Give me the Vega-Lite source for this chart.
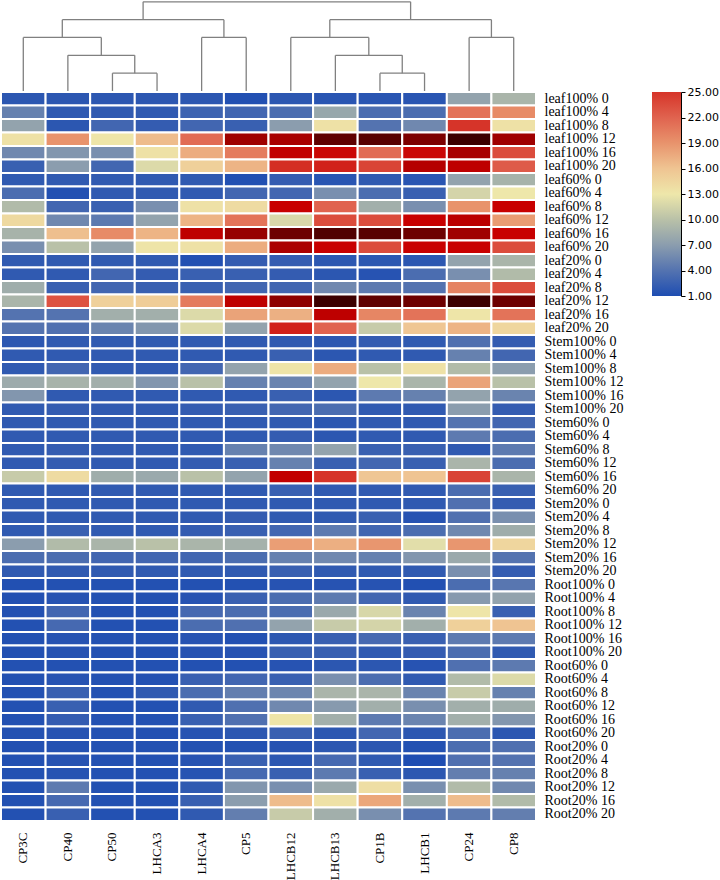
{
  "$schema": "https://vega.github.io/schema/vega-lite/v6.json",
  "padding": 0,
  "background": "white",
  "config": {"view": {"stroke": null}},
  "datasets": {
    "tree": [
      {"x1": 2.5, "x2": 2.5, "h1": 0, "h2": 1}, {"x1": 3.5, "x2": 3.5, "h1": 0, "h2": 1}, {"x1": 2.5, "x2": 3.5, "h1": 1, "h2": 1},
      {"x1": 1.5, "x2": 1.5, "h1": 0, "h2": 2}, {"x1": 3.0, "x2": 3.0, "h1": 1, "h2": 2}, {"x1": 1.5, "x2": 3.0, "h1": 2, "h2": 2},
      {"x1": 0.5, "x2": 0.5, "h1": 0, "h2": 3}, {"x1": 2.25, "x2": 2.25, "h1": 2, "h2": 3}, {"x1": 0.5, "x2": 2.25, "h1": 3, "h2": 3},
      {"x1": 4.5, "x2": 4.5, "h1": 0, "h2": 3}, {"x1": 5.5, "x2": 5.5, "h1": 0, "h2": 3}, {"x1": 4.5, "x2": 5.5, "h1": 3, "h2": 3},
      {"x1": 1.375, "x2": 1.375, "h1": 3, "h2": 4}, {"x1": 5.0, "x2": 5.0, "h1": 3, "h2": 4}, {"x1": 1.375, "x2": 5.0, "h1": 4, "h2": 4},
      {"x1": 8.5, "x2": 8.5, "h1": 0, "h2": 1}, {"x1": 9.5, "x2": 9.5, "h1": 0, "h2": 1}, {"x1": 8.5, "x2": 9.5, "h1": 1, "h2": 1},
      {"x1": 7.5, "x2": 7.5, "h1": 0, "h2": 2}, {"x1": 9.0, "x2": 9.0, "h1": 1, "h2": 2}, {"x1": 7.5, "x2": 9.0, "h1": 2, "h2": 2},
      {"x1": 6.5, "x2": 6.5, "h1": 0, "h2": 3}, {"x1": 8.25, "x2": 8.25, "h1": 2, "h2": 3}, {"x1": 6.5, "x2": 8.25, "h1": 3, "h2": 3},
      {"x1": 10.5, "x2": 10.5, "h1": 0, "h2": 3}, {"x1": 11.5, "x2": 11.5, "h1": 0, "h2": 3}, {"x1": 10.5, "x2": 11.5, "h1": 3, "h2": 3},
      {"x1": 7.375, "x2": 7.375, "h1": 3, "h2": 4}, {"x1": 11.0, "x2": 11.0, "h1": 3, "h2": 4}, {"x1": 7.375, "x2": 11.0, "h1": 4, "h2": 4},
      {"x1": 3.1875, "x2": 3.1875, "h1": 4, "h2": 5}, {"x1": 9.1875, "x2": 9.1875, "h1": 4, "h2": 5}, {"x1": 3.1875, "x2": 9.1875, "h1": 5, "h2": 5}
    ],
    "cells": [
      {"sample":"leaf100% 0","gene":"CP3C","value":1.8},{"sample":"leaf100% 0","gene":"CP40","value":1.8},{"sample":"leaf100% 0","gene":"CP50","value":1.8},{"sample":"leaf100% 0","gene":"LHCA3","value":1.8},{"sample":"leaf100% 0","gene":"LHCA4","value":1.8},{"sample":"leaf100% 0","gene":"CP5","value":1.2},{"sample":"leaf100% 0","gene":"LHCB12","value":1.8},{"sample":"leaf100% 0","gene":"LHCB13","value":1.6},{"sample":"leaf100% 0","gene":"CP1B","value":1.6},{"sample":"leaf100% 0","gene":"LHCB1","value":1.6},{"sample":"leaf100% 0","gene":"CP24","value":7.5},{"sample":"leaf100% 0","gene":"CP8","value":9},
      {"sample":"leaf100% 4","gene":"CP3C","value":5},{"sample":"leaf100% 4","gene":"CP40","value":2},{"sample":"leaf100% 4","gene":"CP50","value":2},{"sample":"leaf100% 4","gene":"LHCA3","value":2},{"sample":"leaf100% 4","gene":"LHCA4","value":2.8},{"sample":"leaf100% 4","gene":"CP5","value":3},{"sample":"leaf100% 4","gene":"LHCB12","value":3.5},{"sample":"leaf100% 4","gene":"LHCB13","value":7.8},{"sample":"leaf100% 4","gene":"CP1B","value":3.5},{"sample":"leaf100% 4","gene":"LHCB1","value":3.5},{"sample":"leaf100% 4","gene":"CP24","value":21},{"sample":"leaf100% 4","gene":"CP8","value":19.5},
      {"sample":"leaf100% 8","gene":"CP3C","value":7.5},{"sample":"leaf100% 8","gene":"CP40","value":1.8},{"sample":"leaf100% 8","gene":"CP50","value":3},{"sample":"leaf100% 8","gene":"LHCA3","value":2.2},{"sample":"leaf100% 8","gene":"LHCA4","value":3},{"sample":"leaf100% 8","gene":"CP5","value":2.5},{"sample":"leaf100% 8","gene":"LHCB12","value":7},{"sample":"leaf100% 8","gene":"LHCB13","value":13.5},{"sample":"leaf100% 8","gene":"CP1B","value":4},{"sample":"leaf100% 8","gene":"LHCB1","value":5.5},{"sample":"leaf100% 8","gene":"CP24","value":25},{"sample":"leaf100% 8","gene":"CP8","value":13.5},
      {"sample":"leaf100% 12","gene":"CP3C","value":13.5},{"sample":"leaf100% 12","gene":"CP40","value":19},{"sample":"leaf100% 12","gene":"CP50","value":13.2},{"sample":"leaf100% 12","gene":"LHCA3","value":16.5},{"sample":"leaf100% 12","gene":"LHCA4","value":21.5},{"sample":"leaf100% 12","gene":"CP5","value":35},{"sample":"leaf100% 12","gene":"LHCB12","value":34},{"sample":"leaf100% 12","gene":"LHCB13","value":43},{"sample":"leaf100% 12","gene":"CP1B","value":44},{"sample":"leaf100% 12","gene":"LHCB1","value":39},{"sample":"leaf100% 12","gene":"CP24","value":48},{"sample":"leaf100% 12","gene":"CP8","value":35},
      {"sample":"leaf100% 16","gene":"CP3C","value":5.5},{"sample":"leaf100% 16","gene":"CP40","value":6.5},{"sample":"leaf100% 16","gene":"CP50","value":6},{"sample":"leaf100% 16","gene":"LHCA3","value":13.5},{"sample":"leaf100% 16","gene":"LHCA4","value":17.5},{"sample":"leaf100% 16","gene":"CP5","value":20.5},{"sample":"leaf100% 16","gene":"LHCB12","value":30},{"sample":"leaf100% 16","gene":"LHCB13","value":28.5},{"sample":"leaf100% 16","gene":"CP1B","value":21.5},{"sample":"leaf100% 16","gene":"LHCB1","value":28.5},{"sample":"leaf100% 16","gene":"CP24","value":34},{"sample":"leaf100% 16","gene":"CP8","value":23.5},
      {"sample":"leaf100% 20","gene":"CP3C","value":2.5},{"sample":"leaf100% 20","gene":"CP40","value":7},{"sample":"leaf100% 20","gene":"CP50","value":3},{"sample":"leaf100% 20","gene":"LHCA3","value":12},{"sample":"leaf100% 20","gene":"LHCA4","value":15},{"sample":"leaf100% 20","gene":"CP5","value":17},{"sample":"leaf100% 20","gene":"LHCB12","value":25.5},{"sample":"leaf100% 20","gene":"LHCB13","value":26.5},{"sample":"leaf100% 20","gene":"CP1B","value":24},{"sample":"leaf100% 20","gene":"LHCB1","value":32},{"sample":"leaf100% 20","gene":"CP24","value":30.5},{"sample":"leaf100% 20","gene":"CP8","value":22.5},
      {"sample":"leaf60% 0","gene":"CP3C","value":2},{"sample":"leaf60% 0","gene":"CP40","value":2},{"sample":"leaf60% 0","gene":"CP50","value":2},{"sample":"leaf60% 0","gene":"LHCA3","value":2},{"sample":"leaf60% 0","gene":"LHCA4","value":2},{"sample":"leaf60% 0","gene":"CP5","value":1.2},{"sample":"leaf60% 0","gene":"LHCB12","value":2.2},{"sample":"leaf60% 0","gene":"LHCB13","value":1.6},{"sample":"leaf60% 0","gene":"CP1B","value":2},{"sample":"leaf60% 0","gene":"LHCB1","value":1.6},{"sample":"leaf60% 0","gene":"CP24","value":7.5},{"sample":"leaf60% 0","gene":"CP8","value":8.8},
      {"sample":"leaf60% 4","gene":"CP3C","value":3.5},{"sample":"leaf60% 4","gene":"CP40","value":1.2},{"sample":"leaf60% 4","gene":"CP50","value":2},{"sample":"leaf60% 4","gene":"LHCA3","value":2},{"sample":"leaf60% 4","gene":"LHCA4","value":2},{"sample":"leaf60% 4","gene":"CP5","value":3},{"sample":"leaf60% 4","gene":"LHCB12","value":3},{"sample":"leaf60% 4","gene":"LHCB13","value":6},{"sample":"leaf60% 4","gene":"CP1B","value":3.5},{"sample":"leaf60% 4","gene":"LHCB1","value":2.5},{"sample":"leaf60% 4","gene":"CP24","value":11.5},{"sample":"leaf60% 4","gene":"CP8","value":13},
      {"sample":"leaf60% 8","gene":"CP3C","value":9.5},{"sample":"leaf60% 8","gene":"CP40","value":3},{"sample":"leaf60% 8","gene":"CP50","value":2.5},{"sample":"leaf60% 8","gene":"LHCA3","value":6},{"sample":"leaf60% 8","gene":"LHCA4","value":13.5},{"sample":"leaf60% 8","gene":"CP5","value":14},{"sample":"leaf60% 8","gene":"LHCB12","value":29},{"sample":"leaf60% 8","gene":"LHCB13","value":22},{"sample":"leaf60% 8","gene":"CP1B","value":8.5},{"sample":"leaf60% 8","gene":"LHCB1","value":6},{"sample":"leaf60% 8","gene":"CP24","value":19},{"sample":"leaf60% 8","gene":"CP8","value":29},
      {"sample":"leaf60% 12","gene":"CP3C","value":14.2},{"sample":"leaf60% 12","gene":"CP40","value":5.5},{"sample":"leaf60% 12","gene":"CP50","value":4.5},{"sample":"leaf60% 12","gene":"LHCA3","value":7.5},{"sample":"leaf60% 12","gene":"LHCA4","value":17},{"sample":"leaf60% 12","gene":"CP5","value":21},{"sample":"leaf60% 12","gene":"LHCB12","value":11.8},{"sample":"leaf60% 12","gene":"LHCB13","value":23.5},{"sample":"leaf60% 12","gene":"CP1B","value":23.5},{"sample":"leaf60% 12","gene":"LHCB1","value":29},{"sample":"leaf60% 12","gene":"CP24","value":31},{"sample":"leaf60% 12","gene":"CP8","value":18.5},
      {"sample":"leaf60% 16","gene":"CP3C","value":8.8},{"sample":"leaf60% 16","gene":"CP40","value":16.3},{"sample":"leaf60% 16","gene":"CP50","value":19.5},{"sample":"leaf60% 16","gene":"LHCA3","value":17},{"sample":"leaf60% 16","gene":"LHCA4","value":30.5},{"sample":"leaf60% 16","gene":"CP5","value":36},{"sample":"leaf60% 16","gene":"LHCB12","value":41},{"sample":"leaf60% 16","gene":"LHCB13","value":45},{"sample":"leaf60% 16","gene":"CP1B","value":44},{"sample":"leaf60% 16","gene":"LHCB1","value":41},{"sample":"leaf60% 16","gene":"CP24","value":35},{"sample":"leaf60% 16","gene":"CP8","value":29},
      {"sample":"leaf60% 20","gene":"CP3C","value":6},{"sample":"leaf60% 20","gene":"CP40","value":10},{"sample":"leaf60% 20","gene":"CP50","value":7.5},{"sample":"leaf60% 20","gene":"LHCA3","value":13.3},{"sample":"leaf60% 20","gene":"LHCA4","value":13.5},{"sample":"leaf60% 20","gene":"CP5","value":17.5},{"sample":"leaf60% 20","gene":"LHCB12","value":33.5},{"sample":"leaf60% 20","gene":"LHCB13","value":29},{"sample":"leaf60% 20","gene":"CP1B","value":23.5},{"sample":"leaf60% 20","gene":"LHCB1","value":29},{"sample":"leaf60% 20","gene":"CP24","value":29},{"sample":"leaf60% 20","gene":"CP8","value":23.5},
      {"sample":"leaf20% 0","gene":"CP3C","value":2},{"sample":"leaf20% 0","gene":"CP40","value":2},{"sample":"leaf20% 0","gene":"CP50","value":2},{"sample":"leaf20% 0","gene":"LHCA3","value":2},{"sample":"leaf20% 0","gene":"LHCA4","value":1.2},{"sample":"leaf20% 0","gene":"CP5","value":2.2},{"sample":"leaf20% 0","gene":"LHCB12","value":2.2},{"sample":"leaf20% 0","gene":"LHCB13","value":1.8},{"sample":"leaf20% 0","gene":"CP1B","value":1.8},{"sample":"leaf20% 0","gene":"LHCB1","value":1.8},{"sample":"leaf20% 0","gene":"CP24","value":7.5},{"sample":"leaf20% 0","gene":"CP8","value":9},
      {"sample":"leaf20% 4","gene":"CP3C","value":2},{"sample":"leaf20% 4","gene":"CP40","value":2},{"sample":"leaf20% 4","gene":"CP50","value":3},{"sample":"leaf20% 4","gene":"LHCA3","value":2.2},{"sample":"leaf20% 4","gene":"LHCA4","value":2.5},{"sample":"leaf20% 4","gene":"CP5","value":2.5},{"sample":"leaf20% 4","gene":"LHCB12","value":2.2},{"sample":"leaf20% 4","gene":"LHCB13","value":1.8},{"sample":"leaf20% 4","gene":"CP1B","value":1.5},{"sample":"leaf20% 4","gene":"LHCB1","value":3.5},{"sample":"leaf20% 4","gene":"CP24","value":6},{"sample":"leaf20% 4","gene":"CP8","value":9.5},
      {"sample":"leaf20% 8","gene":"CP3C","value":8.3},{"sample":"leaf20% 8","gene":"CP40","value":2.5},{"sample":"leaf20% 8","gene":"CP50","value":3},{"sample":"leaf20% 8","gene":"LHCA3","value":2.5},{"sample":"leaf20% 8","gene":"LHCA4","value":2.5},{"sample":"leaf20% 8","gene":"CP5","value":3},{"sample":"leaf20% 8","gene":"LHCB12","value":3},{"sample":"leaf20% 8","gene":"LHCB13","value":5.5},{"sample":"leaf20% 8","gene":"CP1B","value":4.5},{"sample":"leaf20% 8","gene":"LHCB1","value":4},{"sample":"leaf20% 8","gene":"CP24","value":20},{"sample":"leaf20% 8","gene":"CP8","value":23.5},
      {"sample":"leaf20% 12","gene":"CP3C","value":9},{"sample":"leaf20% 12","gene":"CP40","value":23},{"sample":"leaf20% 12","gene":"CP50","value":15},{"sample":"leaf20% 12","gene":"LHCA3","value":15.2},{"sample":"leaf20% 12","gene":"LHCA4","value":20.5},{"sample":"leaf20% 12","gene":"CP5","value":30.5},{"sample":"leaf20% 12","gene":"LHCB12","value":37},{"sample":"leaf20% 12","gene":"LHCB13","value":48},{"sample":"leaf20% 12","gene":"CP1B","value":43},{"sample":"leaf20% 12","gene":"LHCB1","value":41},{"sample":"leaf20% 12","gene":"CP24","value":48},{"sample":"leaf20% 12","gene":"CP8","value":41},
      {"sample":"leaf20% 16","gene":"CP3C","value":4},{"sample":"leaf20% 16","gene":"CP40","value":4},{"sample":"leaf20% 16","gene":"CP50","value":8.5},{"sample":"leaf20% 16","gene":"LHCA3","value":8.5},{"sample":"leaf20% 16","gene":"LHCA4","value":12},{"sample":"leaf20% 16","gene":"CP5","value":18},{"sample":"leaf20% 16","gene":"LHCB12","value":17.2},{"sample":"leaf20% 16","gene":"LHCB13","value":30.5},{"sample":"leaf20% 16","gene":"CP1B","value":19.8},{"sample":"leaf20% 16","gene":"LHCB1","value":21},{"sample":"leaf20% 16","gene":"CP24","value":13.2},{"sample":"leaf20% 16","gene":"CP8","value":21},
      {"sample":"leaf20% 20","gene":"CP3C","value":4},{"sample":"leaf20% 20","gene":"CP40","value":3.8},{"sample":"leaf20% 20","gene":"CP50","value":5.2},{"sample":"leaf20% 20","gene":"LHCA3","value":6.5},{"sample":"leaf20% 20","gene":"LHCA4","value":12},{"sample":"leaf20% 20","gene":"CP5","value":7.5},{"sample":"leaf20% 20","gene":"LHCB12","value":26.5},{"sample":"leaf20% 20","gene":"LHCB13","value":22},{"sample":"leaf20% 20","gene":"CP1B","value":10.8},{"sample":"leaf20% 20","gene":"LHCB1","value":15.8},{"sample":"leaf20% 20","gene":"CP24","value":17},{"sample":"leaf20% 20","gene":"CP8","value":14.5},
      {"sample":"Stem100% 0","gene":"CP3C","value":1.8},{"sample":"Stem100% 0","gene":"CP40","value":2},{"sample":"Stem100% 0","gene":"CP50","value":2},{"sample":"Stem100% 0","gene":"LHCA3","value":2},{"sample":"Stem100% 0","gene":"LHCA4","value":2},{"sample":"Stem100% 0","gene":"CP5","value":2},{"sample":"Stem100% 0","gene":"LHCB12","value":2},{"sample":"Stem100% 0","gene":"LHCB13","value":1.8},{"sample":"Stem100% 0","gene":"CP1B","value":2.2},{"sample":"Stem100% 0","gene":"LHCB1","value":2},{"sample":"Stem100% 0","gene":"CP24","value":3.8},{"sample":"Stem100% 0","gene":"CP8","value":2.2},
      {"sample":"Stem100% 4","gene":"CP3C","value":2},{"sample":"Stem100% 4","gene":"CP40","value":2},{"sample":"Stem100% 4","gene":"CP50","value":2},{"sample":"Stem100% 4","gene":"LHCA3","value":2},{"sample":"Stem100% 4","gene":"LHCA4","value":2},{"sample":"Stem100% 4","gene":"CP5","value":2},{"sample":"Stem100% 4","gene":"LHCB12","value":2.5},{"sample":"Stem100% 4","gene":"LHCB13","value":1.8},{"sample":"Stem100% 4","gene":"CP1B","value":2},{"sample":"Stem100% 4","gene":"LHCB1","value":2},{"sample":"Stem100% 4","gene":"CP24","value":5},{"sample":"Stem100% 4","gene":"CP8","value":3},
      {"sample":"Stem100% 8","gene":"CP3C","value":2},{"sample":"Stem100% 8","gene":"CP40","value":3},{"sample":"Stem100% 8","gene":"CP50","value":2},{"sample":"Stem100% 8","gene":"LHCA3","value":2},{"sample":"Stem100% 8","gene":"LHCA4","value":3},{"sample":"Stem100% 8","gene":"CP5","value":7.5},{"sample":"Stem100% 8","gene":"LHCB12","value":13.3},{"sample":"Stem100% 8","gene":"LHCB13","value":17.5},{"sample":"Stem100% 8","gene":"CP1B","value":10},{"sample":"Stem100% 8","gene":"LHCB1","value":13.5},{"sample":"Stem100% 8","gene":"CP24","value":9.5},{"sample":"Stem100% 8","gene":"CP8","value":7},
      {"sample":"Stem100% 12","gene":"CP3C","value":8.2},{"sample":"Stem100% 12","gene":"CP40","value":8.8},{"sample":"Stem100% 12","gene":"CP50","value":8.5},{"sample":"Stem100% 12","gene":"LHCA3","value":6.5},{"sample":"Stem100% 12","gene":"LHCA4","value":10},{"sample":"Stem100% 12","gene":"CP5","value":5},{"sample":"Stem100% 12","gene":"LHCB12","value":5.2},{"sample":"Stem100% 12","gene":"LHCB13","value":7.5},{"sample":"Stem100% 12","gene":"CP1B","value":13},{"sample":"Stem100% 12","gene":"LHCB1","value":9},{"sample":"Stem100% 12","gene":"CP24","value":18},{"sample":"Stem100% 12","gene":"CP8","value":10},
      {"sample":"Stem100% 16","gene":"CP3C","value":6.5},{"sample":"Stem100% 16","gene":"CP40","value":2},{"sample":"Stem100% 16","gene":"CP50","value":2},{"sample":"Stem100% 16","gene":"LHCA3","value":2},{"sample":"Stem100% 16","gene":"LHCA4","value":2},{"sample":"Stem100% 16","gene":"CP5","value":2},{"sample":"Stem100% 16","gene":"LHCB12","value":2.5},{"sample":"Stem100% 16","gene":"LHCB13","value":1.8},{"sample":"Stem100% 16","gene":"CP1B","value":4.5},{"sample":"Stem100% 16","gene":"LHCB1","value":5},{"sample":"Stem100% 16","gene":"CP24","value":7.5},{"sample":"Stem100% 16","gene":"CP8","value":5.2},
      {"sample":"Stem100% 20","gene":"CP3C","value":2},{"sample":"Stem100% 20","gene":"CP40","value":2.2},{"sample":"Stem100% 20","gene":"CP50","value":2},{"sample":"Stem100% 20","gene":"LHCA3","value":2},{"sample":"Stem100% 20","gene":"LHCA4","value":2.2},{"sample":"Stem100% 20","gene":"CP5","value":2.5},{"sample":"Stem100% 20","gene":"LHCB12","value":3},{"sample":"Stem100% 20","gene":"LHCB13","value":3.5},{"sample":"Stem100% 20","gene":"CP1B","value":2},{"sample":"Stem100% 20","gene":"LHCB1","value":2},{"sample":"Stem100% 20","gene":"CP24","value":7},{"sample":"Stem100% 20","gene":"CP8","value":2.2},
      {"sample":"Stem60% 0","gene":"CP3C","value":2},{"sample":"Stem60% 0","gene":"CP40","value":2},{"sample":"Stem60% 0","gene":"CP50","value":2},{"sample":"Stem60% 0","gene":"LHCA3","value":2},{"sample":"Stem60% 0","gene":"LHCA4","value":2},{"sample":"Stem60% 0","gene":"CP5","value":2},{"sample":"Stem60% 0","gene":"LHCB12","value":2},{"sample":"Stem60% 0","gene":"LHCB13","value":1.8},{"sample":"Stem60% 0","gene":"CP1B","value":2},{"sample":"Stem60% 0","gene":"LHCB1","value":2},{"sample":"Stem60% 0","gene":"CP24","value":4},{"sample":"Stem60% 0","gene":"CP8","value":3},
      {"sample":"Stem60% 4","gene":"CP3C","value":2},{"sample":"Stem60% 4","gene":"CP40","value":2},{"sample":"Stem60% 4","gene":"CP50","value":2},{"sample":"Stem60% 4","gene":"LHCA3","value":2},{"sample":"Stem60% 4","gene":"LHCA4","value":2},{"sample":"Stem60% 4","gene":"CP5","value":2},{"sample":"Stem60% 4","gene":"LHCB12","value":2.2},{"sample":"Stem60% 4","gene":"LHCB13","value":1.8},{"sample":"Stem60% 4","gene":"CP1B","value":2},{"sample":"Stem60% 4","gene":"LHCB1","value":2},{"sample":"Stem60% 4","gene":"CP24","value":4.5},{"sample":"Stem60% 4","gene":"CP8","value":3.5},
      {"sample":"Stem60% 8","gene":"CP3C","value":2},{"sample":"Stem60% 8","gene":"CP40","value":2.2},{"sample":"Stem60% 8","gene":"CP50","value":2},{"sample":"Stem60% 8","gene":"LHCA3","value":2},{"sample":"Stem60% 8","gene":"LHCA4","value":2},{"sample":"Stem60% 8","gene":"CP5","value":5},{"sample":"Stem60% 8","gene":"LHCB12","value":5.5},{"sample":"Stem60% 8","gene":"LHCB13","value":7.5},{"sample":"Stem60% 8","gene":"CP1B","value":2.5},{"sample":"Stem60% 8","gene":"LHCB1","value":2.5},{"sample":"Stem60% 8","gene":"CP24","value":2},{"sample":"Stem60% 8","gene":"CP8","value":4.5},
      {"sample":"Stem60% 12","gene":"CP3C","value":2},{"sample":"Stem60% 12","gene":"CP40","value":2.2},{"sample":"Stem60% 12","gene":"CP50","value":2},{"sample":"Stem60% 12","gene":"LHCA3","value":2},{"sample":"Stem60% 12","gene":"LHCA4","value":2.2},{"sample":"Stem60% 12","gene":"CP5","value":2.5},{"sample":"Stem60% 12","gene":"LHCB12","value":5},{"sample":"Stem60% 12","gene":"LHCB13","value":2.5},{"sample":"Stem60% 12","gene":"CP1B","value":3},{"sample":"Stem60% 12","gene":"LHCB1","value":2.5},{"sample":"Stem60% 12","gene":"CP24","value":9},{"sample":"Stem60% 12","gene":"CP8","value":3.5},
      {"sample":"Stem60% 16","gene":"CP3C","value":10.8},{"sample":"Stem60% 16","gene":"CP40","value":14},{"sample":"Stem60% 16","gene":"CP50","value":8.3},{"sample":"Stem60% 16","gene":"LHCA3","value":8},{"sample":"Stem60% 16","gene":"LHCA4","value":10},{"sample":"Stem60% 16","gene":"CP5","value":7.5},{"sample":"Stem60% 16","gene":"LHCB12","value":30},{"sample":"Stem60% 16","gene":"LHCB13","value":25},{"sample":"Stem60% 16","gene":"CP1B","value":15.8},{"sample":"Stem60% 16","gene":"LHCB1","value":16},{"sample":"Stem60% 16","gene":"CP24","value":24},{"sample":"Stem60% 16","gene":"CP8","value":9},
      {"sample":"Stem60% 20","gene":"CP3C","value":2},{"sample":"Stem60% 20","gene":"CP40","value":2},{"sample":"Stem60% 20","gene":"CP50","value":2},{"sample":"Stem60% 20","gene":"LHCA3","value":2},{"sample":"Stem60% 20","gene":"LHCA4","value":2},{"sample":"Stem60% 20","gene":"CP5","value":2},{"sample":"Stem60% 20","gene":"LHCB12","value":2.5},{"sample":"Stem60% 20","gene":"LHCB13","value":2},{"sample":"Stem60% 20","gene":"CP1B","value":2},{"sample":"Stem60% 20","gene":"LHCB1","value":2},{"sample":"Stem60% 20","gene":"CP24","value":3.5},{"sample":"Stem60% 20","gene":"CP8","value":2.5},
      {"sample":"Stem20% 0","gene":"CP3C","value":2},{"sample":"Stem20% 0","gene":"CP40","value":2},{"sample":"Stem20% 0","gene":"CP50","value":2},{"sample":"Stem20% 0","gene":"LHCA3","value":2},{"sample":"Stem20% 0","gene":"LHCA4","value":2},{"sample":"Stem20% 0","gene":"CP5","value":2},{"sample":"Stem20% 0","gene":"LHCB12","value":2},{"sample":"Stem20% 0","gene":"LHCB13","value":2},{"sample":"Stem20% 0","gene":"CP1B","value":2},{"sample":"Stem20% 0","gene":"LHCB1","value":2},{"sample":"Stem20% 0","gene":"CP24","value":3.8},{"sample":"Stem20% 0","gene":"CP8","value":2.2},
      {"sample":"Stem20% 4","gene":"CP3C","value":2},{"sample":"Stem20% 4","gene":"CP40","value":2},{"sample":"Stem20% 4","gene":"CP50","value":2},{"sample":"Stem20% 4","gene":"LHCA3","value":2},{"sample":"Stem20% 4","gene":"LHCA4","value":2},{"sample":"Stem20% 4","gene":"CP5","value":2.2},{"sample":"Stem20% 4","gene":"LHCB12","value":2},{"sample":"Stem20% 4","gene":"LHCB13","value":2},{"sample":"Stem20% 4","gene":"CP1B","value":2.5},{"sample":"Stem20% 4","gene":"LHCB1","value":1.5},{"sample":"Stem20% 4","gene":"CP24","value":3.8},{"sample":"Stem20% 4","gene":"CP8","value":6},
      {"sample":"Stem20% 8","gene":"CP3C","value":2},{"sample":"Stem20% 8","gene":"CP40","value":2.5},{"sample":"Stem20% 8","gene":"CP50","value":2},{"sample":"Stem20% 8","gene":"LHCA3","value":2},{"sample":"Stem20% 8","gene":"LHCA4","value":2.2},{"sample":"Stem20% 8","gene":"CP5","value":2.5},{"sample":"Stem20% 8","gene":"LHCB12","value":3},{"sample":"Stem20% 8","gene":"LHCB13","value":4.5},{"sample":"Stem20% 8","gene":"CP1B","value":3},{"sample":"Stem20% 8","gene":"LHCB1","value":3.5},{"sample":"Stem20% 8","gene":"CP24","value":5.5},{"sample":"Stem20% 8","gene":"CP8","value":8.3},
      {"sample":"Stem20% 12","gene":"CP3C","value":7},{"sample":"Stem20% 12","gene":"CP40","value":9.5},{"sample":"Stem20% 12","gene":"CP50","value":9},{"sample":"Stem20% 12","gene":"LHCA3","value":10},{"sample":"Stem20% 12","gene":"LHCA4","value":9},{"sample":"Stem20% 12","gene":"CP5","value":8.7},{"sample":"Stem20% 12","gene":"LHCB12","value":18.3},{"sample":"Stem20% 12","gene":"LHCB13","value":17.3},{"sample":"Stem20% 12","gene":"CP1B","value":18.8},{"sample":"Stem20% 12","gene":"LHCB1","value":12.3},{"sample":"Stem20% 12","gene":"CP24","value":18.8},{"sample":"Stem20% 12","gene":"CP8","value":14.5},
      {"sample":"Stem20% 16","gene":"CP3C","value":3.5},{"sample":"Stem20% 16","gene":"CP40","value":3.5},{"sample":"Stem20% 16","gene":"CP50","value":3},{"sample":"Stem20% 16","gene":"LHCA3","value":3},{"sample":"Stem20% 16","gene":"LHCA4","value":3},{"sample":"Stem20% 16","gene":"CP5","value":3.5},{"sample":"Stem20% 16","gene":"LHCB12","value":5},{"sample":"Stem20% 16","gene":"LHCB13","value":5.5},{"sample":"Stem20% 16","gene":"CP1B","value":5},{"sample":"Stem20% 16","gene":"LHCB1","value":6.5},{"sample":"Stem20% 16","gene":"CP24","value":8},{"sample":"Stem20% 16","gene":"CP8","value":4},
      {"sample":"Stem20% 20","gene":"CP3C","value":2},{"sample":"Stem20% 20","gene":"CP40","value":2},{"sample":"Stem20% 20","gene":"CP50","value":2},{"sample":"Stem20% 20","gene":"LHCA3","value":2},{"sample":"Stem20% 20","gene":"LHCA4","value":2},{"sample":"Stem20% 20","gene":"CP5","value":2},{"sample":"Stem20% 20","gene":"LHCB12","value":2.5},{"sample":"Stem20% 20","gene":"LHCB13","value":2},{"sample":"Stem20% 20","gene":"CP1B","value":2},{"sample":"Stem20% 20","gene":"LHCB1","value":2},{"sample":"Stem20% 20","gene":"CP24","value":6},{"sample":"Stem20% 20","gene":"CP8","value":2.2},
      {"sample":"Root100% 0","gene":"CP3C","value":1.2},{"sample":"Root100% 0","gene":"CP40","value":1.3},{"sample":"Root100% 0","gene":"CP50","value":1.3},{"sample":"Root100% 0","gene":"LHCA3","value":1.3},{"sample":"Root100% 0","gene":"LHCA4","value":1.3},{"sample":"Root100% 0","gene":"CP5","value":1.3},{"sample":"Root100% 0","gene":"LHCB12","value":1.5},{"sample":"Root100% 0","gene":"LHCB13","value":1.5},{"sample":"Root100% 0","gene":"CP1B","value":1.5},{"sample":"Root100% 0","gene":"LHCB1","value":1.2},{"sample":"Root100% 0","gene":"CP24","value":3.5},{"sample":"Root100% 0","gene":"CP8","value":4.2},
      {"sample":"Root100% 4","gene":"CP3C","value":1.2},{"sample":"Root100% 4","gene":"CP40","value":1.5},{"sample":"Root100% 4","gene":"CP50","value":1.3},{"sample":"Root100% 4","gene":"LHCA3","value":1.3},{"sample":"Root100% 4","gene":"LHCA4","value":1.5},{"sample":"Root100% 4","gene":"CP5","value":2.5},{"sample":"Root100% 4","gene":"LHCB12","value":3.5},{"sample":"Root100% 4","gene":"LHCB13","value":4.5},{"sample":"Root100% 4","gene":"CP1B","value":3},{"sample":"Root100% 4","gene":"LHCB1","value":2},{"sample":"Root100% 4","gene":"CP24","value":6.8},{"sample":"Root100% 4","gene":"CP8","value":7.5},
      {"sample":"Root100% 8","gene":"CP3C","value":1.3},{"sample":"Root100% 8","gene":"CP40","value":3},{"sample":"Root100% 8","gene":"CP50","value":1.3},{"sample":"Root100% 8","gene":"LHCA3","value":1.3},{"sample":"Root100% 8","gene":"LHCA4","value":3.2},{"sample":"Root100% 8","gene":"CP5","value":3.5},{"sample":"Root100% 8","gene":"LHCB12","value":3.5},{"sample":"Root100% 8","gene":"LHCB13","value":8},{"sample":"Root100% 8","gene":"CP1B","value":11.7},{"sample":"Root100% 8","gene":"LHCB1","value":5.2},{"sample":"Root100% 8","gene":"CP24","value":13.2},{"sample":"Root100% 8","gene":"CP8","value":2.5},
      {"sample":"Root100% 12","gene":"CP3C","value":1.3},{"sample":"Root100% 12","gene":"CP40","value":3.2},{"sample":"Root100% 12","gene":"CP50","value":1.3},{"sample":"Root100% 12","gene":"LHCA3","value":1.3},{"sample":"Root100% 12","gene":"LHCA4","value":3.5},{"sample":"Root100% 12","gene":"CP5","value":3.8},{"sample":"Root100% 12","gene":"LHCB12","value":7.5},{"sample":"Root100% 12","gene":"LHCB13","value":10.8},{"sample":"Root100% 12","gene":"CP1B","value":11.5},{"sample":"Root100% 12","gene":"LHCB1","value":8.5},{"sample":"Root100% 12","gene":"CP24","value":15},{"sample":"Root100% 12","gene":"CP8","value":16},
      {"sample":"Root100% 16","gene":"CP3C","value":1.3},{"sample":"Root100% 16","gene":"CP40","value":1.5},{"sample":"Root100% 16","gene":"CP50","value":1.3},{"sample":"Root100% 16","gene":"LHCA3","value":1.3},{"sample":"Root100% 16","gene":"LHCA4","value":1.5},{"sample":"Root100% 16","gene":"CP5","value":1.2},{"sample":"Root100% 16","gene":"LHCB12","value":1.8},{"sample":"Root100% 16","gene":"LHCB13","value":2.5},{"sample":"Root100% 16","gene":"CP1B","value":3.2},{"sample":"Root100% 16","gene":"LHCB1","value":2.5},{"sample":"Root100% 16","gene":"CP24","value":4.5},{"sample":"Root100% 16","gene":"CP8","value":4.5},
      {"sample":"Root100% 20","gene":"CP3C","value":1.3},{"sample":"Root100% 20","gene":"CP40","value":1.5},{"sample":"Root100% 20","gene":"CP50","value":1.3},{"sample":"Root100% 20","gene":"LHCA3","value":1.3},{"sample":"Root100% 20","gene":"LHCA4","value":1.5},{"sample":"Root100% 20","gene":"CP5","value":1.5},{"sample":"Root100% 20","gene":"LHCB12","value":2.5},{"sample":"Root100% 20","gene":"LHCB13","value":2.5},{"sample":"Root100% 20","gene":"CP1B","value":2},{"sample":"Root100% 20","gene":"LHCB1","value":2.2},{"sample":"Root100% 20","gene":"CP24","value":3.5},{"sample":"Root100% 20","gene":"CP8","value":2},
      {"sample":"Root60% 0","gene":"CP3C","value":1.3},{"sample":"Root60% 0","gene":"CP40","value":1.3},{"sample":"Root60% 0","gene":"CP50","value":1.3},{"sample":"Root60% 0","gene":"LHCA3","value":1.3},{"sample":"Root60% 0","gene":"LHCA4","value":1.3},{"sample":"Root60% 0","gene":"CP5","value":1.3},{"sample":"Root60% 0","gene":"LHCB12","value":1.5},{"sample":"Root60% 0","gene":"LHCB13","value":1.8},{"sample":"Root60% 0","gene":"CP1B","value":1.8},{"sample":"Root60% 0","gene":"LHCB1","value":1.5},{"sample":"Root60% 0","gene":"CP24","value":3.8},{"sample":"Root60% 0","gene":"CP8","value":4.5},
      {"sample":"Root60% 4","gene":"CP3C","value":1.3},{"sample":"Root60% 4","gene":"CP40","value":1.5},{"sample":"Root60% 4","gene":"CP50","value":1.3},{"sample":"Root60% 4","gene":"LHCA3","value":1.3},{"sample":"Root60% 4","gene":"LHCA4","value":2.5},{"sample":"Root60% 4","gene":"CP5","value":3},{"sample":"Root60% 4","gene":"LHCB12","value":2.5},{"sample":"Root60% 4","gene":"LHCB13","value":6},{"sample":"Root60% 4","gene":"CP1B","value":3.5},{"sample":"Root60% 4","gene":"LHCB1","value":2},{"sample":"Root60% 4","gene":"CP24","value":9.5},{"sample":"Root60% 4","gene":"CP8","value":12},
      {"sample":"Root60% 8","gene":"CP3C","value":1.3},{"sample":"Root60% 8","gene":"CP40","value":2.5},{"sample":"Root60% 8","gene":"CP50","value":1.3},{"sample":"Root60% 8","gene":"LHCA3","value":2},{"sample":"Root60% 8","gene":"LHCA4","value":3.5},{"sample":"Root60% 8","gene":"CP5","value":4.8},{"sample":"Root60% 8","gene":"LHCB12","value":5.3},{"sample":"Root60% 8","gene":"LHCB13","value":9},{"sample":"Root60% 8","gene":"CP1B","value":9},{"sample":"Root60% 8","gene":"LHCB1","value":5.2},{"sample":"Root60% 8","gene":"CP24","value":10.8},{"sample":"Root60% 8","gene":"CP8","value":5},
      {"sample":"Root60% 12","gene":"CP3C","value":1.3},{"sample":"Root60% 12","gene":"CP40","value":2.5},{"sample":"Root60% 12","gene":"CP50","value":1.3},{"sample":"Root60% 12","gene":"LHCA3","value":1.3},{"sample":"Root60% 12","gene":"LHCA4","value":2},{"sample":"Root60% 12","gene":"CP5","value":3.8},{"sample":"Root60% 12","gene":"LHCB12","value":5.5},{"sample":"Root60% 12","gene":"LHCB13","value":6.8},{"sample":"Root60% 12","gene":"CP1B","value":8.5},{"sample":"Root60% 12","gene":"LHCB1","value":6},{"sample":"Root60% 12","gene":"CP24","value":8.5},{"sample":"Root60% 12","gene":"CP8","value":8.3},
      {"sample":"Root60% 16","gene":"CP3C","value":1.3},{"sample":"Root60% 16","gene":"CP40","value":2.2},{"sample":"Root60% 16","gene":"CP50","value":1.3},{"sample":"Root60% 16","gene":"LHCA3","value":1.3},{"sample":"Root60% 16","gene":"LHCA4","value":2.5},{"sample":"Root60% 16","gene":"CP5","value":3.8},{"sample":"Root60% 16","gene":"LHCB12","value":13.2},{"sample":"Root60% 16","gene":"LHCB13","value":8.5},{"sample":"Root60% 16","gene":"CP1B","value":4.5},{"sample":"Root60% 16","gene":"LHCB1","value":5.2},{"sample":"Root60% 16","gene":"CP24","value":8.5},{"sample":"Root60% 16","gene":"CP8","value":6.5},
      {"sample":"Root60% 20","gene":"CP3C","value":1.3},{"sample":"Root60% 20","gene":"CP40","value":1.5},{"sample":"Root60% 20","gene":"CP50","value":1.3},{"sample":"Root60% 20","gene":"LHCA3","value":1.2},{"sample":"Root60% 20","gene":"LHCA4","value":1.5},{"sample":"Root60% 20","gene":"CP5","value":1.8},{"sample":"Root60% 20","gene":"LHCB12","value":2.5},{"sample":"Root60% 20","gene":"LHCB13","value":1.8},{"sample":"Root60% 20","gene":"CP1B","value":3},{"sample":"Root60% 20","gene":"LHCB1","value":1.8},{"sample":"Root60% 20","gene":"CP24","value":3.5},{"sample":"Root60% 20","gene":"CP8","value":1.8},
      {"sample":"Root20% 0","gene":"CP3C","value":1.2},{"sample":"Root20% 0","gene":"CP40","value":1.3},{"sample":"Root20% 0","gene":"CP50","value":1.3},{"sample":"Root20% 0","gene":"LHCA3","value":1.3},{"sample":"Root20% 0","gene":"LHCA4","value":1.3},{"sample":"Root20% 0","gene":"CP5","value":1.3},{"sample":"Root20% 0","gene":"LHCB12","value":1.5},{"sample":"Root20% 0","gene":"LHCB13","value":1.8},{"sample":"Root20% 0","gene":"CP1B","value":1.8},{"sample":"Root20% 0","gene":"LHCB1","value":1.3},{"sample":"Root20% 0","gene":"CP24","value":3.5},{"sample":"Root20% 0","gene":"CP8","value":3.8},
      {"sample":"Root20% 4","gene":"CP3C","value":1.3},{"sample":"Root20% 4","gene":"CP40","value":1.5},{"sample":"Root20% 4","gene":"CP50","value":1.3},{"sample":"Root20% 4","gene":"LHCA3","value":1.3},{"sample":"Root20% 4","gene":"LHCA4","value":1.5},{"sample":"Root20% 4","gene":"CP5","value":2.5},{"sample":"Root20% 4","gene":"LHCB12","value":1.8},{"sample":"Root20% 4","gene":"LHCB13","value":3.2},{"sample":"Root20% 4","gene":"CP1B","value":2},{"sample":"Root20% 4","gene":"LHCB1","value":1.0},{"sample":"Root20% 4","gene":"CP24","value":3.8},{"sample":"Root20% 4","gene":"CP8","value":4},
      {"sample":"Root20% 8","gene":"CP3C","value":1.3},{"sample":"Root20% 8","gene":"CP40","value":1.5},{"sample":"Root20% 8","gene":"CP50","value":1.3},{"sample":"Root20% 8","gene":"LHCA3","value":1.3},{"sample":"Root20% 8","gene":"LHCA4","value":1.5},{"sample":"Root20% 8","gene":"CP5","value":3.2},{"sample":"Root20% 8","gene":"LHCB12","value":2.5},{"sample":"Root20% 8","gene":"LHCB13","value":4.5},{"sample":"Root20% 8","gene":"CP1B","value":2.5},{"sample":"Root20% 8","gene":"LHCB1","value":1.8},{"sample":"Root20% 8","gene":"CP24","value":4.8},{"sample":"Root20% 8","gene":"CP8","value":5},
      {"sample":"Root20% 12","gene":"CP3C","value":1.3},{"sample":"Root20% 12","gene":"CP40","value":4.5},{"sample":"Root20% 12","gene":"CP50","value":1.3},{"sample":"Root20% 12","gene":"LHCA3","value":1.3},{"sample":"Root20% 12","gene":"LHCA4","value":2},{"sample":"Root20% 12","gene":"CP5","value":6.5},{"sample":"Root20% 12","gene":"LHCB12","value":6},{"sample":"Root20% 12","gene":"LHCB13","value":8},{"sample":"Root20% 12","gene":"CP1B","value":13.8},{"sample":"Root20% 12","gene":"LHCB1","value":6},{"sample":"Root20% 12","gene":"CP24","value":9.5},{"sample":"Root20% 12","gene":"CP8","value":5.5},
      {"sample":"Root20% 16","gene":"CP3C","value":1.3},{"sample":"Root20% 16","gene":"CP40","value":3.2},{"sample":"Root20% 16","gene":"CP50","value":1.3},{"sample":"Root20% 16","gene":"LHCA3","value":1.3},{"sample":"Root20% 16","gene":"LHCA4","value":2.5},{"sample":"Root20% 16","gene":"CP5","value":7},{"sample":"Root20% 16","gene":"LHCB12","value":16.5},{"sample":"Root20% 16","gene":"LHCB13","value":13.5},{"sample":"Root20% 16","gene":"CP1B","value":17.8},{"sample":"Root20% 16","gene":"LHCB1","value":8.5},{"sample":"Root20% 16","gene":"CP24","value":16.5},{"sample":"Root20% 16","gene":"CP8","value":9.5},
      {"sample":"Root20% 20","gene":"CP3C","value":1.3},{"sample":"Root20% 20","gene":"CP40","value":2.5},{"sample":"Root20% 20","gene":"CP50","value":1.3},{"sample":"Root20% 20","gene":"LHCA3","value":1.3},{"sample":"Root20% 20","gene":"LHCA4","value":2},{"sample":"Root20% 20","gene":"CP5","value":4.8},{"sample":"Root20% 20","gene":"LHCB12","value":10.8},{"sample":"Root20% 20","gene":"LHCB13","value":8.5},{"sample":"Root20% 20","gene":"CP1B","value":6},{"sample":"Root20% 20","gene":"LHCB1","value":4},{"sample":"Root20% 20","gene":"CP24","value":4.5},{"sample":"Root20% 20","gene":"CP8","value":4.8}
    ]
  },
  "spacing": 1,
  "bounds": "flush",
  "vconcat": [
    {
      "width": 535,
      "height": 91,
      "data": {"name": "tree"},
      "mark": {"type": "rule", "color": "#808080", "strokeWidth": 1.3},
      "encoding": {
        "x": {"field": "x1", "type": "quantitative", "scale": {"domain": [0, 12], "nice": false, "zero": false}, "axis": null},
        "x2": {"field": "x2"},
        "y": {"field": "h1", "type": "quantitative", "scale": {"domain": [0, 5.1], "nice": false}, "axis": null},
        "y2": {"field": "h2"}
      }
    },
    {
      "spacing": 116,
      "bounds": "flush",
      "hconcat": [
        {
          "width": 535,
          "height": 729,
          "data": {"name": "cells"},
          "mark": {"type": "rect", "stroke": "white", "strokeWidth": 2},
          "encoding": {
            "x": {
              "field": "gene", "type": "nominal", "sort": null,
              "scale": {"paddingInner": 0, "paddingOuter": 0},
              "axis": {"orient": "bottom", "title": null, "labelAngle": -90, "ticks": false, "domain": false, "labelPadding": 11, "labelFont": "Liberation Serif", "labelFontSize": 13, "labelColor": "black"}
            },
            "y": {
              "field": "sample", "type": "nominal", "sort": null,
              "scale": {"paddingInner": 0, "paddingOuter": 0},
              "axis": {"orient": "right", "title": null, "ticks": false, "domain": false, "labelPadding": 8, "labelFont": "Liberation Serif", "labelFontSize": 14, "labelColor": "black"}
            },
            "color": {
              "field": "value", "type": "quantitative",
              "scale": {
                "domain": [1, 4, 7, 10, 13, 16, 19, 22, 25, 29, 34, 40, 48],
                "range": ["#1e4db2", "#5473b0", "#8b9dae", "#b9c1a8", "#eee7aa", "#efc492", "#e8936c", "#e0634f", "#d63429", "#c80000", "#a80000", "#740000", "#3c0000"],
                "interpolate": "rgb",
                "clamp": true
              },
              "legend": null
            }
          }
        },
        {
          "width": 29,
          "height": 204,
          "data": {"values": [{"low": 1, "high": 25}]},
          "mark": {
            "type": "rect",
            "color": {
              "gradient": "linear", "x1": 0, "y1": 1, "x2": 0, "y2": 0,
              "stops": [
                {"offset": 0, "color": "#1e4db2"},
                {"offset": 0.125, "color": "#5473b0"},
                {"offset": 0.25, "color": "#8b9dae"},
                {"offset": 0.375, "color": "#b9c1a8"},
                {"offset": 0.5, "color": "#eee7aa"},
                {"offset": 0.625, "color": "#efc492"},
                {"offset": 0.75, "color": "#e8936c"},
                {"offset": 0.875, "color": "#e0634f"},
                {"offset": 1, "color": "#d63429"}
              ]
            }
          },
          "encoding": {
            "y": {
              "field": "low", "type": "quantitative",
              "scale": {"domain": [1, 25], "nice": false, "zero": false},
              "axis": {"orient": "right", "title": null, "grid": false, "values": [1, 4, 7, 10, 13, 16, 19, 22, 25], "format": ".2f", "domainColor": "black", "tickColor": "black", "tickSize": 4, "labelFont": "DejaVu Sans", "labelFontSize": 11, "labelColor": "black", "labelPadding": 2, "labelFlush": false, "labelOverlap": false}
            },
            "y2": {"field": "high"}
          }
        }
      ]
    }
  ]
}
